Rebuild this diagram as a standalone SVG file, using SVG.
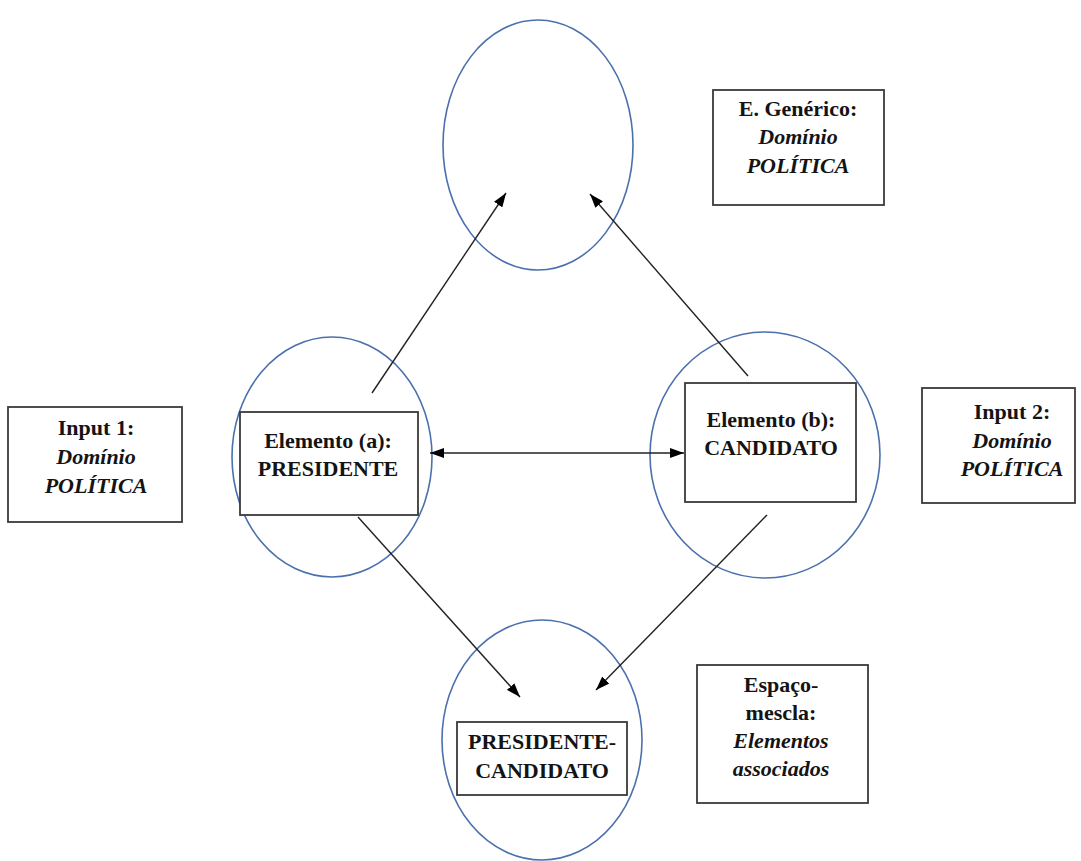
<svg xmlns="http://www.w3.org/2000/svg" width="1081" height="861" viewBox="0 0 1081 861">
  <defs>
    <marker id="arrow" viewBox="0 0 14 10" refX="14" refY="5" markerWidth="14" markerHeight="10" markerUnits="userSpaceOnUse" orient="auto-start-reverse">
      <path d="M0,0 L14,5 L0,10 Z" fill="#000"/>
    </marker>
    <style>
      .space { fill: none; stroke: #4a70ad; stroke-width: 1.6; }
      .box { fill: #fff; stroke: #3a3a3a; stroke-width: 1.8; }
      .lbl { font-family: "Liberation Serif", "Times New Roman", serif; font-size: 22px; font-weight: bold; fill: #141414; text-anchor: middle; }
      .it { font-style: italic; }
      .link { stroke: #222; stroke-width: 1.4; fill: none; }
    </style>
  </defs>
  <rect width="1081" height="861" fill="#fff"/>

  <!-- mental spaces -->
  <g id="space-generic"><ellipse class="space" cx="538" cy="145" rx="95" ry="125"/></g>
  <g id="space-input1"><ellipse class="space" cx="332" cy="457" rx="100" ry="120"/></g>
  <g id="space-input2"><ellipse class="space" cx="765" cy="455" rx="115" ry="123"/></g>
  <g id="space-blend"><ellipse class="space" cx="542" cy="740" rx="100" ry="120"/></g>

  <!-- connectors -->
  <g id="connectors">
    <line class="link" x1="372" y1="393" x2="506" y2="193" marker-end="url(#arrow)"/>
    <line class="link" x1="748" y1="376" x2="590" y2="194" marker-end="url(#arrow)"/>
    <line class="link" x1="430" y1="453" x2="684" y2="453" marker-start="url(#arrow)" marker-end="url(#arrow)"/>
    <line class="link" x1="358" y1="517" x2="520" y2="697" marker-end="url(#arrow)"/>
    <line class="link" x1="767" y1="515" x2="596" y2="690" marker-end="url(#arrow)"/>
  </g>

  <!-- labels -->
  <g id="label-generic">
    <rect class="box" x="713" y="90" width="171" height="115"/>
    <text class="lbl" x="798" y="116">E. Genérico:</text>
    <text class="lbl it" x="798" y="144">Domínio</text>
    <text class="lbl it" x="798" y="173">POLÍTICA</text>
  </g>
  <g id="label-input1">
    <rect class="box" x="8" y="407" width="174" height="115"/>
    <text class="lbl" x="96" y="435">Input 1:</text>
    <text class="lbl it" x="96" y="464">Domínio</text>
    <text class="lbl it" x="96" y="493">POLÍTICA</text>
  </g>
  <g id="element-a">
    <rect class="box" x="240" y="412" width="178" height="103"/>
    <text class="lbl" x="328" y="448">Elemento (a):</text>
    <text class="lbl" x="328" y="476">PRESIDENTE</text>
  </g>
  <g id="element-b">
    <rect class="box" x="685" y="383" width="171" height="119"/>
    <text class="lbl" x="771" y="427">Elemento (b):</text>
    <text class="lbl" x="771" y="455">CANDIDATO</text>
  </g>
  <g id="label-input2">
    <rect class="box" x="922" y="388" width="153" height="115"/>
    <text class="lbl" x="1012" y="419">Input 2:</text>
    <text class="lbl it" x="1012" y="448">Domínio</text>
    <text class="lbl it" x="1012" y="476">POLÍTICA</text>
  </g>
  <g id="element-blend">
    <rect class="box" x="457" y="722" width="170" height="73"/>
    <text class="lbl" x="542" y="749">PRESIDENTE-</text>
    <text class="lbl" x="542" y="778">CANDIDATO</text>
  </g>
  <g id="label-blend">
    <rect class="box" x="697" y="665" width="171" height="138"/>
    <text class="lbl" x="781" y="692">Espaço-</text>
    <text class="lbl" x="781" y="720">mescla:</text>
    <text class="lbl it" x="781" y="748">Elementos</text>
    <text class="lbl it" x="781" y="776">associados</text>
  </g>
</svg>
